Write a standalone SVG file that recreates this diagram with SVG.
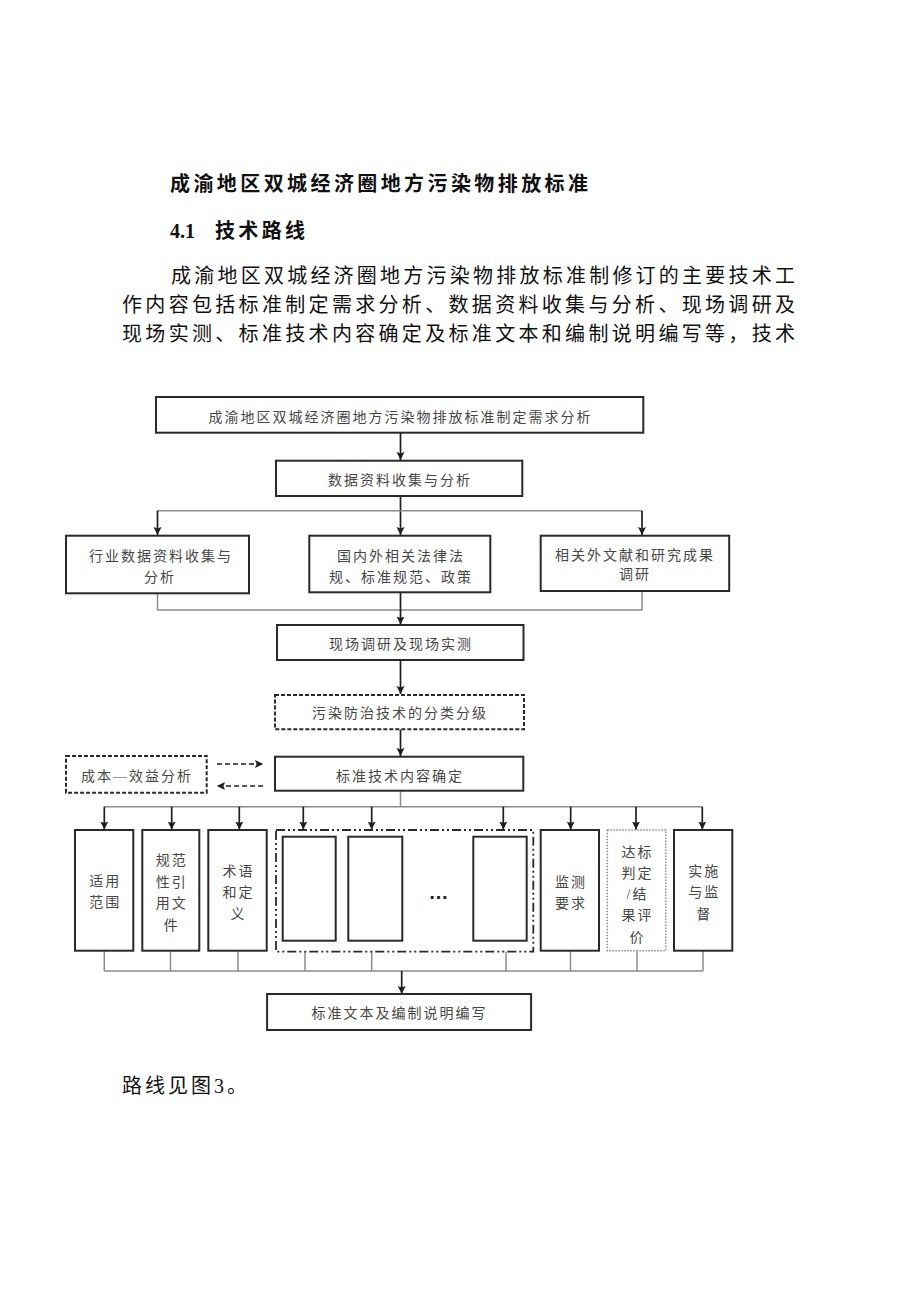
<svg xmlns="http://www.w3.org/2000/svg" width="920" height="1301" viewBox="0 0 920 1301">
<style>
.body{font-family:"Liberation Serif","Noto Sans CJK SC",serif;font-size:20px;fill:#111}
.b{font-weight:bold}
.t{font-family:"Liberation Serif","Noto Sans CJK SC",serif;font-size:14px;fill:#474747;letter-spacing:2px;text-anchor:middle}
.box{fill:#fff;stroke:#2a2a2a;stroke-width:2}
.dash{fill:#fff;stroke:#2a2a2a;stroke-width:2;stroke-dasharray:4 2}
.dashdot{fill:none;stroke:#2a2a2a;stroke-width:1.8;stroke-dasharray:9 3 2 3 2 3}
.dot{fill:#fff;stroke:#8a8a8a;stroke-width:1.5;stroke-dasharray:1.5 1.5}
.arr{fill:none;stroke:#1e1e1e;stroke-width:1.7}
.gray{fill:none;stroke:#8c8c8c;stroke-width:1.5}
.darr{fill:none;stroke:#1e1e1e;stroke-width:1.7;stroke-dasharray:5 3}
</style>
<defs>
<marker id="ah" viewBox="0 0 10 10" refX="10" refY="5" markerWidth="8" markerHeight="10" markerUnits="userSpaceOnUse" orient="auto">
<path d="M0,0 L10,5 L0,10 L2,5 z" fill="#1e1e1e"/>
</marker>
</defs>
<rect width="920" height="1301" fill="#fff"/>

<g id="page-text">
<text class="body b" x="170" y="190.6" textLength="418" lengthAdjust="spacing">成渝地区双城经济圈地方污染物排放标准</text>
<text class="body b" x="170" y="237.6">4.1</text>
<text class="body b" x="215" y="237.6" textLength="90" lengthAdjust="spacing">技术路线</text>
<text class="body" x="171" y="282.6" textLength="624" lengthAdjust="spacing">成渝地区双城经济圈地方污染物排放标准制修订的主要技术工</text>
<text class="body" x="122" y="312" textLength="673" lengthAdjust="spacing">作内容包括标准制定需求分析、数据资料收集与分析、现场调研及</text>
<text class="body" x="122" y="341" textLength="673" lengthAdjust="spacing">现场实测、标准技术内容确定及标准文本和编制说明编写等，技术</text>
<text class="body" x="122" y="1092.6" style="letter-spacing:3px">路线见图3。</text>
</g>

<g id="connectors">
<path class="arr" d="M400.5,433 V460" marker-end="url(#ah)"/>
<path class="arr" d="M400.5,496 V535" marker-end="url(#ah)"/>
<path class="gray" d="M157.5,510.7 H642"/>
<path class="arr" d="M157.5,510.7 V535" marker-end="url(#ah)"/>
<path class="arr" d="M642,510.7 V535" marker-end="url(#ah)"/>
<path class="gray" d="M157.5,593.3 V610 H642 V591"/>
<path class="arr" d="M400.5,592.3 V624.5" marker-end="url(#ah)"/>
<path class="arr" d="M400.5,660 V694" marker-end="url(#ah)"/>
<path class="arr" d="M400.5,729.3 V756" marker-end="url(#ah)"/>
<path class="darr" d="M217,764 H263" marker-end="url(#ah)"/>
<path class="darr" d="M263,786 H217" marker-end="url(#ah)"/>
<path class="gray" d="M400.5,790.7 V806.7"/>
<path class="gray" d="M104.3,806.7 H702.3"/>
<path class="arr" d="M104.3,806.7 V829.5" marker-end="url(#ah)"/>
<path class="arr" d="M171.7,806.7 V829.5" marker-end="url(#ah)"/>
<path class="arr" d="M239.3,806.7 V829.5" marker-end="url(#ah)"/>
<path class="arr" d="M303.3,806.7 V829.5" marker-end="url(#ah)"/>
<path class="arr" d="M371.7,806.7 V829.5" marker-end="url(#ah)"/>
<path class="arr" d="M503.3,806.7 V829.5" marker-end="url(#ah)"/>
<path class="arr" d="M570.7,806.7 V829.5" marker-end="url(#ah)"/>
<path class="arr" d="M636,806.7 V829.5" marker-end="url(#ah)"/>
<path class="arr" d="M702.3,806.7 V829.5" marker-end="url(#ah)"/>
<path class="gray" d="M104.3,950.7 V971 M170.5,950.7 V971 M238,950.7 V971 M305,951.7 V971 M371.7,951.7 V971 M506,951.7 V971 M570.5,950.7 V971 M637,950.7 V971 M703,950.7 V971 M104.3,971 H703"/>
<path class="arr" d="M401.7,971 V994" marker-end="url(#ah)"/>
</g>

<g id="n-need">
<rect class="box" x="156" y="397" width="487.3" height="35.7"/>
<text class="t" x="400.5" y="422">成渝地区双城经济圈地方污染物排放标准制定需求分析</text>
</g>
<g id="n-data">
<rect class="box" x="276" y="460.7" width="246.3" height="35.3"/>
<text class="t" x="400" y="485.3">数据资料收集与分析</text>
</g>
<g id="n-industry">
<rect class="box" x="66" y="535.7" width="183" height="57.6"/>
<text class="t" x="161" y="561">行业数据资料收集与</text>
<text class="t" x="160" y="582">分析</text>
</g>
<g id="n-law">
<rect class="box" x="309.3" y="535.7" width="181" height="56.6"/>
<text class="t" x="401" y="561">国内外相关法律法</text>
<text class="t" x="401" y="582">规、标准规范、政策</text>
</g>
<g id="n-lit">
<rect class="box" x="540.7" y="535.7" width="188.5" height="55.3"/>
<text class="t" x="635" y="559.5">相关外文献和研究成果</text>
<text class="t" x="635" y="579">调研</text>
</g>
<g id="n-field">
<rect class="box" x="277" y="625" width="246.5" height="35"/>
<text class="t" x="401" y="649.3">现场调研及现场实测</text>
</g>
<g id="n-classify">
<rect class="dash" x="275" y="695" width="249" height="34.3"/>
<text class="t" x="400" y="718.3">污染防治技术的分类分级</text>
</g>
<g id="n-content">
<rect class="box" x="275" y="756.7" width="248.3" height="34"/>
<text class="t" x="400" y="781.3">标准技术内容确定</text>
</g>
<g id="n-cost">
<rect class="dash" x="66" y="756" width="140.7" height="36.7"/>
<text class="t" x="137" y="781.3">成本—效益分析</text>
</g>
<g id="n-scope">
<rect class="box" x="75" y="830" width="58.3" height="120.7"/>
<text class="t" x="105.2" y="886.3">适用</text>
<text class="t" x="105.2" y="907.3">范围</text>
</g>
<g id="n-ref">
<rect class="box" x="142.3" y="830" width="57" height="120.7"/>
<text class="t" x="171.8" y="865.3">规范</text>
<text class="t" x="171.8" y="887.3">性引</text>
<text class="t" x="171.8" y="908.3">用文</text>
<text class="t" x="171.8" y="930.3">件</text>
</g>
<g id="n-term">
<rect class="box" x="208.3" y="830" width="58.4" height="120.7"/>
<text class="t" x="238.5" y="876.3">术语</text>
<text class="t" x="238.5" y="897.3">和定</text>
<text class="t" x="238.5" y="918.5">义</text>
</g>
<g id="n-group">
<rect class="dashdot" x="276" y="830" width="257.3" height="121.7"/>
</g>
<g id="n-item1">
<rect class="box" x="282.7" y="836.7" width="53" height="104"/>
</g>
<g id="n-item2">
<rect class="box" x="348.3" y="836.7" width="54" height="104"/>
</g>
<g id="n-item3">
<rect class="box" x="473.3" y="836.7" width="53.4" height="104"/>
</g>
<g id="n-ellipsis">
<text x="438.5" y="899" style="font-family:'Liberation Sans',sans-serif;font-size:20px;font-weight:bold;fill:#222;text-anchor:middle">…</text>
</g>
<g id="n-monitor">
<rect class="box" x="540.7" y="830" width="58.3" height="120.7"/>
<text class="t" x="570.9" y="887.3">监测</text>
<text class="t" x="570.9" y="908.3">要求</text>
</g>
<g id="n-judge">
<rect class="dot" x="607.3" y="830" width="58.4" height="120.7"/>
<text class="t" x="637.5" y="857">达标</text>
<text class="t" x="637.5" y="877.5">判定</text>
<text class="t" x="637.5" y="898.6">/结</text>
<text class="t" x="637.5" y="919.6">果评</text>
<text class="t" x="637.5" y="942">价</text>
</g>
<g id="n-implement">
<rect class="box" x="674" y="830" width="58.3" height="120.7"/>
<text class="t" x="704.2" y="876.3">实施</text>
<text class="t" x="704.2" y="897.3">与监</text>
<text class="t" x="704.2" y="919.3">督</text>
</g>
<g id="n-write">
<rect class="box" x="267.1" y="994" width="264" height="36"/>
<text class="t" x="399.5" y="1018">标准文本及编制说明编写</text>
</g>
</svg>
